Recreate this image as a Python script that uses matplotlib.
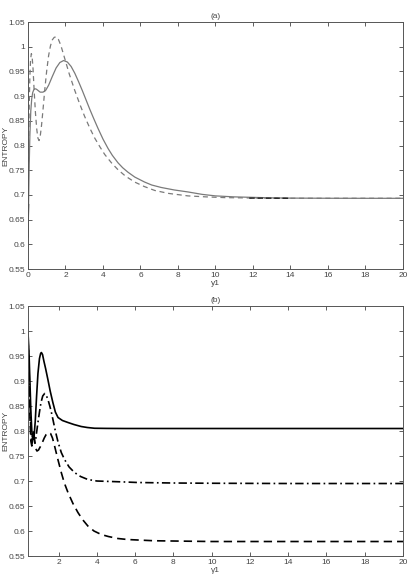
import matplotlib
matplotlib.use('Agg')
import matplotlib.pyplot as plt

plt.rcParams['font.family'] = ['Liberation Sans', 'DejaVu Sans']

# panel (a)
a_solid_x = [0.0, 0.03, 0.06, 0.1, 0.15, 0.2, 0.25, 0.3, 0.36, 0.45, 0.55, 0.65, 0.8, 0.95, 1.1, 1.3, 1.5, 1.7, 1.9, 2.1, 2.3, 2.5, 2.7, 2.9, 3.1, 3.3, 3.5, 3.73, 4.0, 4.27, 4.5, 4.8, 5.05, 5.33, 5.7, 6.22, 6.6, 7.11, 7.8, 8.53, 9.3, 10.0, 11.0, 12.0, 13.0, 14.0, 16.0, 18.0, 20.0]
a_solid_y = [0.615, 0.68, 0.75, 0.82, 0.87, 0.895, 0.907, 0.912, 0.915, 0.914, 0.911, 0.908, 0.908, 0.912, 0.922, 0.94, 0.957, 0.968, 0.972, 0.969, 0.96, 0.946, 0.929, 0.911, 0.892, 0.873, 0.855, 0.835, 0.813, 0.794, 0.78, 0.765, 0.755, 0.746, 0.736, 0.726, 0.72, 0.715, 0.71, 0.706, 0.701, 0.698, 0.696, 0.695, 0.694, 0.6935, 0.6932, 0.6931, 0.6931]

a_dash_x = [0.0, 0.03, 0.06, 0.1, 0.14, 0.18, 0.22, 0.27, 0.33, 0.4, 0.47, 0.53, 0.59, 0.65, 0.72, 0.8, 0.9, 1.0, 1.1, 1.2, 1.3, 1.4, 1.51, 1.62, 1.75, 1.96, 2.2, 2.49, 2.75, 3.02, 3.3, 3.56, 3.84, 4.09, 4.45, 4.8, 5.2, 5.69, 6.2, 6.76, 7.5, 8.53, 9.5, 10.5, 11.5, 12.5, 14.0, 16.0, 18.0, 20.0]
a_dash_y = [0.66, 0.77, 0.87, 0.94, 0.975, 0.986, 0.98, 0.955, 0.91, 0.865, 0.832, 0.815, 0.81, 0.818, 0.84, 0.872, 0.915, 0.952, 0.982, 1.002, 1.014, 1.019, 1.02, 1.015, 1.003, 0.976, 0.945, 0.912, 0.885, 0.859, 0.835, 0.815, 0.797, 0.782, 0.765, 0.751, 0.738, 0.726, 0.717, 0.709, 0.703, 0.698, 0.696, 0.6945, 0.694, 0.6935, 0.6932, 0.6931, 0.6931, 0.6931]

a_black_x = [0.0, 0.012, 0.02]
a_black_y = [0.615, 0.66, 0.68]
a_tail_x = [11.8, 13.9]
a_tail_y = [0.6935, 0.6932]

# panel (b)
b_solid_x = [0.4, 0.45, 0.5, 0.55, 0.6, 0.66, 0.72, 0.78, 0.85, 0.92, 1.0, 1.06, 1.1, 1.16, 1.23, 1.32, 1.44, 1.56, 1.7, 1.83, 1.97, 2.2, 2.49, 2.8, 3.18, 3.5, 3.88, 4.5, 5.5, 6.14, 8.0, 10.0, 14.0, 20.0]
b_solid_y = [0.997, 0.96, 0.9, 0.84, 0.8, 0.783, 0.79, 0.82, 0.87, 0.915, 0.945, 0.955, 0.957, 0.953, 0.94, 0.925, 0.903, 0.88, 0.857, 0.838, 0.827, 0.821, 0.817, 0.813, 0.809, 0.807, 0.8055, 0.8052, 0.805, 0.805, 0.805, 0.805, 0.805, 0.805]

b_dashdot_x = [0.4, 0.45, 0.5, 0.55, 0.6, 0.65, 0.7, 0.75, 0.8, 0.86, 0.92, 1.0, 1.08, 1.17, 1.27, 1.36, 1.45, 1.54, 1.62, 1.72, 1.83, 1.97, 2.14, 2.31, 2.55, 2.83, 3.15, 3.53, 4.0, 4.75, 5.5, 6.14, 8.0, 10.0, 14.0, 20.0]
b_dashdot_y = [0.985, 0.93, 0.86, 0.8, 0.775, 0.795, 0.79, 0.777, 0.782, 0.8, 0.817, 0.838, 0.857, 0.87, 0.875, 0.871, 0.862, 0.85, 0.838, 0.82, 0.8, 0.778, 0.757, 0.743, 0.728, 0.717, 0.709, 0.703, 0.7, 0.699, 0.698, 0.697, 0.696, 0.6955, 0.695, 0.695]

b_dash_x = [0.4, 0.45, 0.5, 0.55, 0.6, 0.65, 0.7, 0.75, 0.8, 0.87, 0.95, 1.05, 1.15, 1.25, 1.35, 1.43, 1.5, 1.58, 1.68, 1.79, 1.95, 2.14, 2.3, 2.49, 2.75, 3.01, 3.25, 3.53, 3.85, 4.23, 4.6, 5.1, 5.6, 6.14, 7.0, 8.0, 10.0, 14.0, 20.0]
b_dash_y = [0.97, 0.9, 0.83, 0.78, 0.77, 0.79, 0.8, 0.78, 0.765, 0.76, 0.762, 0.769, 0.777, 0.786, 0.793, 0.796, 0.797, 0.795, 0.786, 0.77, 0.745, 0.717, 0.696, 0.677, 0.655, 0.637, 0.623, 0.61, 0.6, 0.593, 0.589, 0.585, 0.583, 0.582, 0.5805, 0.58, 0.579, 0.579, 0.579]

tick_font = 6
gray = '#7a7a7a'

fig = plt.figure(figsize=(4.11, 5.79), dpi=100)
ax1 = fig.add_axes([0.0681, 0.5354, 0.9124, 0.4266])
ax2 = fig.add_axes([0.0681, 0.0397, 0.9124, 0.4318])

ax1.plot(a_solid_x, a_solid_y, color=gray, lw=0.9)
ax1.plot(a_dash_x, a_dash_y, color=gray, lw=0.9, dashes=(4, 3))
ax1.plot(a_black_x, a_black_y, color='black', lw=1.2)
ax1.plot(a_tail_x, a_tail_y, color='#222222', lw=1.0, dashes=(4, 2))

ax2.plot(b_solid_x, b_solid_y, color='black', lw=1.2)
ax2.plot(b_dashdot_x, b_dashdot_y, color='black', lw=1.2, dashes=(5, 2, 1, 2))
ax2.plot(b_dash_x, b_dash_y, color='black', lw=1.2, dashes=(5, 3))

ax1.set_xlim(0, 20)
ax2.set_xlim(0.4, 20)
ax1.set_xticks(range(0, 21, 2))
ax2.set_xticks(range(2, 21, 2))

for ax, title, xlab in [(ax1, '(a)', 'y1'), (ax2, '(b)', 'γ1')]:
    ax.set_ylim(0.55, 1.05)
    ax.set_yticks([0.55, 0.6, 0.65, 0.7, 0.75, 0.8, 0.85, 0.9, 0.95, 1.0, 1.05])
    ax.set_yticklabels(['0.55', '0.6', '0.65', '0.7', '0.75', '0.8', '0.85', '0.9', '0.95', '1', '1.05'])
    ax.tick_params(direction='in', length=3, width=0.6, top=True, right=True,
                   labelsize=tick_font, colors='#444444', pad=2)
    for s in ax.spines.values():
        s.set_color('#555555')
        s.set_linewidth(0.7)
    ax.set_title(title, fontsize=tick_font, color='#444444', pad=3)
    ax.set_xlabel(xlab, fontsize=tick_font, color='#444444', labelpad=1)
    ax.set_ylabel('ENTROPY', fontsize=tick_font, color='#444444')
    ax.yaxis.set_label_coords(-0.05, 0.5)

fig.savefig('out.png', dpi=100)
